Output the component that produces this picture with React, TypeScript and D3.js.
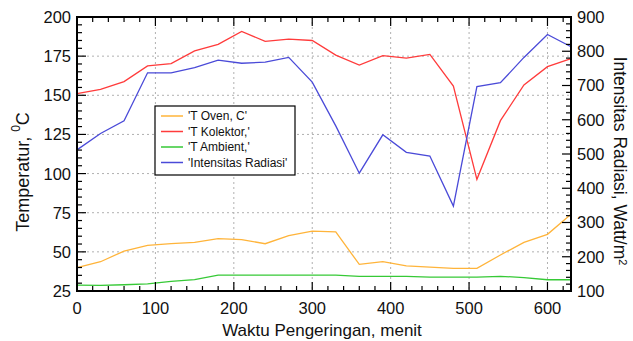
import React from 'react';
import * as d3 from 'd3';

// waktu pengeringan (menit)
const minutes = [0, 30, 60, 90, 120, 150, 180, 210, 240, 270, 300, 330, 360, 390, 420, 450, 480, 510, 540, 570, 600, 630];

// suhu, derajat C (sumbu kiri)
const tOven = [40, 43.7, 50.5, 54.2, 55.2, 56.1, 58.4, 57.8, 55.2, 60.3, 63.3, 62.7, 42, 43.7, 41, 40.3, 39.5, 39.5, 48, 56.1, 61.2, 74];
const tKolektor = [151, 153.8, 158.7, 168.8, 170.2, 178.3, 182.5, 190.8, 184.4, 185.9, 185, 175.7, 169.3, 175.3, 173.8, 176.1, 155.9, 96.3, 133.8, 156.6, 168.3, 173.4];
const tAmbient = [28.8, 28.6, 29, 29.5, 31.2, 32.2, 35.2, 35.2, 35.2, 35.2, 35.2, 35.2, 34.4, 34.4, 34.4, 33.8, 33.8, 33.8, 34.4, 33.6, 32.2, 32.2];

// intensitas radiasi, Watt/m2 (sumbu kanan)
const radiasi = [512, 560, 597, 737, 737, 752, 774, 765, 768, 782, 710, 582, 444, 556, 505, 494, 348, 697, 708, 782, 849, 813];

const legendLabels = ["'T Oven, C'", "'T Kolektor,'", "'T Ambient,'", "'Intensitas Radiasi'"];
const colors = ['#FFB43A', '#FF3B3B', '#36C936', '#4A4AD8'];

const W = 633;
const H = 341;
const m = { left: 77, right: 62, top: 17, bottom: 50 };
const font = 'Liberation Sans, Arial, sans-serif';

export default function App() {
  const x = d3.scaleLinear().domain([0, 630]).range([m.left, W - m.right]);
  const yL = d3.scaleLinear().domain([25, 200]).range([H - m.bottom, m.top]);
  const yR = d3.scaleLinear().domain([100, 900]).range([H - m.bottom, m.top]);

  const x0 = x.range()[0], x1 = x.range()[1];
  const y0 = yL.range()[0], y1 = yL.range()[1];

  const leftLine = (vals: number[]) =>
    d3.line<number>().x((_, i) => x(minutes[i])).y(v => yL(v))(vals) || '';
  const rightLine = d3.line<number>().x((_, i) => x(minutes[i])).y(v => yR(v))(radiasi) || '';

  const xMajor = d3.range(0, 631, 100);
  const xMinor = d3.range(0, 631, 20).filter(v => v % 100 !== 0);
  const yMajor = d3.range(25, 201, 25);
  const yMinor = d3.range(25, 201, 5).filter(v => v % 25 !== 0);
  const rMajor = d3.range(100, 901, 100);
  const rMinor = d3.range(100, 901, 20).filter(v => v % 100 !== 0);

  const major = 9;
  const minor = 5;

  const series = [tOven, tKolektor, tAmbient];

  return (
    <svg width={W} height={H} style={{ position: 'absolute', left: 0, top: 0, background: '#fff' }}>
      <rect x={0} y={0} width={W} height={H} fill="#fff" />
      {/* grid */}
      <g stroke="#b0b0b0" strokeWidth={1} strokeDasharray="2,3">
        {xMajor.filter(v => v > 0).map(v => (
          <line key={'gx' + v} x1={x(v)} x2={x(v)} y1={y1} y2={y0} />
        ))}
        {yMajor.filter(v => v > 25 && v < 200).map(v => (
          <line key={'gy' + v} x1={x0} x2={x1} y1={yL(v)} y2={yL(v)} />
        ))}
      </g>

      {/* data */}
      <g fill="none" strokeWidth={1.3}>
        {series.map((s, i) => (
          <path key={i} d={leftLine(s)} stroke={colors[i]} />
        ))}
        <path d={rightLine} stroke={colors[3]} />
      </g>

      {/* ticks */}
      <g stroke="#000" strokeWidth={1.2}>
        {xMajor.map(v => (
          <g key={'xm' + v}>
            <line x1={x(v)} x2={x(v)} y1={y0} y2={y0 - major} />
            <line x1={x(v)} x2={x(v)} y1={y1} y2={y1 + major} />
          </g>
        ))}
        {xMinor.map(v => (
          <g key={'xn' + v}>
            <line x1={x(v)} x2={x(v)} y1={y0} y2={y0 - minor} />
            <line x1={x(v)} x2={x(v)} y1={y1} y2={y1 + minor} />
          </g>
        ))}
        {yMajor.map(v => (
          <line key={'ym' + v} x1={x0} x2={x0 + major} y1={yL(v)} y2={yL(v)} />
        ))}
        {yMinor.map(v => (
          <line key={'yn' + v} x1={x0} x2={x0 + minor} y1={yL(v)} y2={yL(v)} />
        ))}
        {rMajor.map(v => (
          <line key={'rm' + v} x1={x1} x2={x1 - major} y1={yR(v)} y2={yR(v)} />
        ))}
        {rMinor.map(v => (
          <line key={'rn' + v} x1={x1} x2={x1 - minor} y1={yR(v)} y2={yR(v)} />
        ))}
      </g>

      {/* frame */}
      <rect x={x0} y={y1} width={x1 - x0} height={y0 - y1} fill="none" stroke="#000" strokeWidth={2} />

      {/* tick labels */}
      <g fontFamily={font} fontSize={16.5} fill="#111">
        {xMajor.map(v => (
          <text key={'xl' + v} x={x(v)} y={314} textAnchor="middle">{v}</text>
        ))}
        {yMajor.map(v => (
          <text key={'yl' + v} x={x0 - 6} y={yL(v)} dy="0.36em" textAnchor="end">{v}</text>
        ))}
        {rMajor.map(v => (
          <text key={'rl' + v} x={x1 + 6} y={yR(v)} dy="0.36em" textAnchor="start">{v}</text>
        ))}
      </g>

      {/* axis titles */}
      <g fontFamily={font} fill="#111">
        <text x={322} y={336} fontSize={17} textAnchor="middle">Waktu Pengeringan, menit</text>
        <text transform={`translate(29, 172) rotate(-90)`} fontSize={18} textAnchor="middle">
          Temperatur, <tspan dy={-9} fontSize={12}>0</tspan><tspan dy={9}>C</tspan>
        </text>
        <text transform={`translate(614, 161) rotate(90)`} fontSize={17.5} textAnchor="middle">
          Intensitas Radiasi, Watt/m<tspan dy={-5} fontSize={11}>2</tspan>
        </text>
      </g>

      {/* legend */}
      <g>
        <rect x={155} y={106} width={140} height={69} fill="#fff" stroke="#000" strokeWidth={1.2} />
        {legendLabels.map((lab, i) => {
          const ly = 116 + i * 15.5;
          return (
            <g key={lab}>
              <line x1={161} x2={183} y1={ly} y2={ly} stroke={colors[i]} strokeWidth={1.5} />
              <text x={188} y={ly} dy="0.36em" fontFamily={font} fontSize={12} fill="#111">{lab}</text>
            </g>
          );
        })}
      </g>
    </svg>
  );
}
